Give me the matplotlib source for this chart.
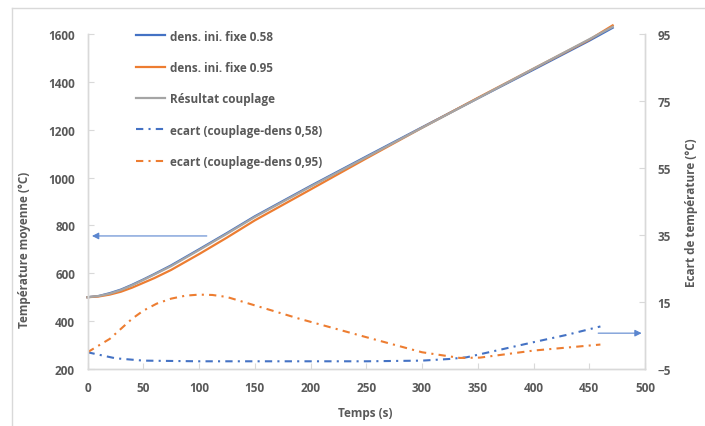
import matplotlib
matplotlib.use("Agg")
import matplotlib.pyplot as plt
from matplotlib.lines import Line2D

plt.rcParams["font.family"] = ["Open Sans", "DejaVu Sans"]
plt.rcParams["font.weight"] = "bold"

BLUE = "#4472C4"
ORANGE = "#ED7D31"
GRAY = "#A5A5A5"
TEXT = "#595959"
AXIS = "#D9D9D9"

# mean temperature curves (left axis)
t_main = [0, 10, 20, 30, 40, 50, 60, 75, 100, 125, 150, 200, 250, 300, 350, 400, 450, 471]
temp_058 = [500, 505, 517, 532, 552, 574, 597, 633, 700, 768, 838, 965, 1088, 1210, 1331, 1451, 1572, 1626]
temp_095 = [500, 503, 511, 523, 540, 560, 580, 614, 680, 749, 821, 950, 1080, 1208, 1333, 1455, 1576, 1636]
temp_coupl = [500, 505, 515, 530, 550, 572, 595, 630, 697, 765, 835, 962, 1085, 1208, 1331, 1455, 1578, 1630]

# temperature gaps (right axis)
t_ecart_058 = [0, 25, 50, 100, 200, 250, 300, 325, 340, 360, 380, 400, 430, 460]
ecart_058 = [0, -1.8, -2.5, -2.7, -2.7, -2.7, -2.5, -2.0, -1.5, 0, 1.5, 3.0, 5.2, 7.7]
t_ecart_095 = [0, 10, 20, 30, 40, 50, 62, 75, 88, 100, 112, 125, 150, 190, 250, 300, 334, 352, 375, 400, 430, 460]
ecart_095 = [0, 2, 4, 7, 10, 12.4, 14.5, 16, 16.9, 17.2, 17.1, 16.5, 14, 10, 4.5, 0, -1.7, -1.6, -0.6, 0.5, 1.4, 2.3]

labels = [
    "dens. ini. fixe 0.58",
    "dens. ini. fixe 0.95",
    "Résultat couplage",
    "ecart (couplage-dens 0,58)",
    "ecart (couplage-dens 0,95)",
]

x_ticks = list(range(0, 501, 50))
left_ticks = list(range(200, 1601, 200))
right_ticks = [-5, 15, 35, 55, 75, 95]

dashdot = (0, (3.5, 2.5, 1, 2.5))

fig = plt.figure(figsize=(7.05, 4.27), dpi=100)
ax = fig.add_axes([87.5 / 705, 57 / 427, 557.5 / 705, 335 / 427])
ax2 = ax.twinx()

l1, = ax.plot(t_main, temp_058, color=BLUE, lw=1.6, clip_on=False)
l2, = ax.plot(t_main, temp_095, color=ORANGE, lw=1.6, clip_on=False)
l3, = ax.plot(t_main, temp_coupl, color=GRAY, lw=1.6, clip_on=False)
l4, = ax2.plot(t_ecart_058, ecart_058, color=BLUE, lw=1.5, ls=dashdot)
l5, = ax2.plot(t_ecart_095, ecart_095, color=ORANGE, lw=1.5, ls=dashdot)

ax.set_xlim(0, 500)
ax.set_ylim(200, 1600)
ax2.set_ylim(-5, 95)
ax.set_xticks(x_ticks)
ax.set_yticks(left_ticks)
ax2.set_yticks(right_ticks)

for a in (ax, ax2):
    a.set_facecolor("none")
    for spine in a.spines.values():
        spine.set_color(AXIS)
        spine.set_linewidth(1.0)
    a.spines["top"].set_visible(False)
    a.tick_params(direction="in", length=4, color=AXIS, labelcolor=TEXT,
                  labelsize=8.5, pad=9)

ax.set_xlabel("Temps (s)", color=TEXT, fontsize=8.5, fontweight="bold")
ax.set_ylabel("Température moyenne (°C)", color=TEXT, fontsize=8.5, fontweight="bold")
ax2.set_ylabel("Ecart de température (°C)", color=TEXT, fontsize=8.5, fontweight="bold")
ax.xaxis.set_label_coords(0.498, -0.11)
ax.yaxis.set_label_coords(-0.101, 0.36)
ax2.yaxis.set_label_coords(1.072, 0.47)

# arrows pointing to the axes
ax.annotate("", xy=(4, 756), xytext=(107, 756),
            arrowprops=dict(arrowstyle="-|>", color="#5B86CF", lw=0.8,
                            mutation_scale=10, shrinkA=0, shrinkB=0))
ax2.annotate("", xy=(497, 5.7), xytext=(458, 5.7),
             arrowprops=dict(arrowstyle="-|>", color="#5B86CF", lw=0.8,
                             mutation_scale=10, shrinkA=0, shrinkB=0),
             annotation_clip=False)

leg = ax2.legend([l1, l2, l3, l4, l5], labels, frameon=False,
                 loc="upper left", bbox_to_anchor=(125 / 705, 1 - 20 / 427),
                 bbox_transform=fig.transFigure, fontsize=8.5,
                 handlelength=2.5, handletextpad=0.4, labelspacing=1.55)
for txt in leg.get_texts():
    txt.set_color(TEXT)
    txt.set_fontweight("bold")

# outer chart frame
fig.add_artist(Line2D([12 / 705, 12 / 705], [0, 1 - 9 / 427], color=AXIS, lw=1.0,
                      transform=fig.transFigure))
fig.add_artist(Line2D([12 / 705, 1], [1 - 9 / 427, 1 - 9 / 427], color=AXIS, lw=1.0,
                      transform=fig.transFigure))

fig.savefig("out.png", dpi=100)
